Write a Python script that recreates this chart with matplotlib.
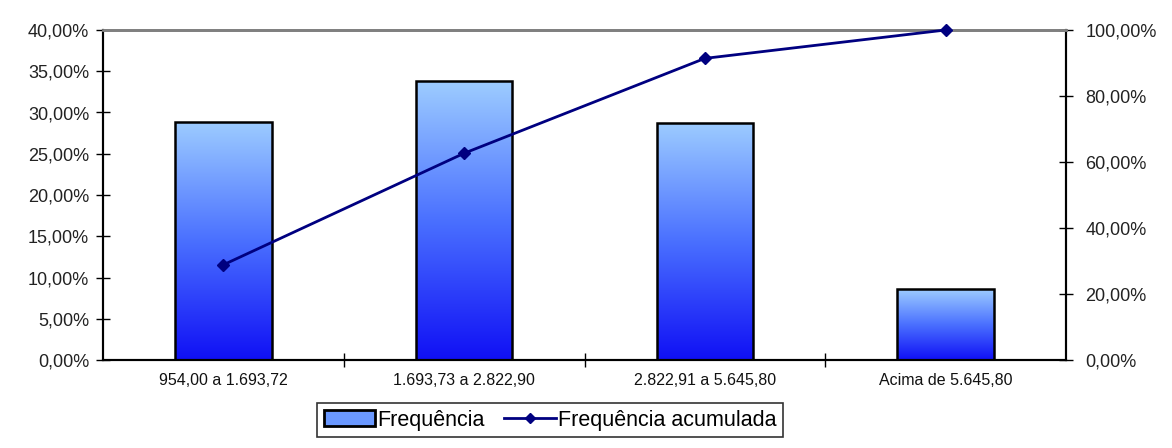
import matplotlib
matplotlib.use("Agg")
import matplotlib.pyplot as plt
import numpy as np
from matplotlib.patches import Patch
from matplotlib.lines import Line2D
from matplotlib.colors import LinearSegmentedColormap

# Data (percent)
categorias = ["954,00 a 1.693,72", "1.693,73 a 2.822,90",
              "2.822,91 a 5.645,80", "Acima de 5.645,80"]
frequencia = [28.85, 33.8, 28.75, 8.6]
freq_acumulada = [28.85, 62.65, 91.4, 100.0]
ticks_esq = [0, 5, 10, 15, 20, 25, 30, 35, 40]
ticks_dir = [0, 20, 40, 60, 80, 100]

plt.rcParams['font.family'] = ['Liberation Sans', 'DejaVu Sans']

def fmt(v):
    return f"{v:.2f}".replace(".", ",") + "%"

fig = plt.figure(figsize=(11.72, 4.48), dpi=100)
ax = fig.add_axes([103/1172, 1 - 360/448, 963/1172, 330/448])
ax2 = ax.twinx()

x = np.arange(len(categorias))
bars = ax.bar(x, frequencia, width=0.4, facecolor="none", edgecolor="black",
              linewidth=1.8, zorder=3)

# gradient fill, per bar (light top -> strong blue bottom)
cmap = LinearSegmentedColormap.from_list("grad", ["#1010f5", "#4a70ff", "#9dccff"])
grad = np.linspace(0, 1, 256).reshape(-1, 1)
for b in bars:
    x0, w, h = b.get_x(), b.get_width(), b.get_height()
    im = ax.imshow(grad, extent=[x0, x0 + w, 0, h], origin="lower",
                   cmap=cmap, aspect="auto", zorder=2)
    im.set_clip_path(b)

ax.set_xlim(-0.5, len(categorias) - 0.5)
ax.set_ylim(0, 40)
ax.set_yticks(ticks_esq)
ax.set_yticklabels([fmt(v) for v in ticks_esq])
ax.set_xticks(x)
ax.set_xticklabels(categorias)
ax.tick_params(axis="x", length=0, pad=9, labelsize=11.5, colors="#111111")
ax.set_xticks(np.arange(0.5, len(categorias) - 0.5, 1.0), minor=True)
ax.tick_params(axis="x", which="minor", direction="inout", length=10, width=1)
ax.tick_params(axis="y", direction="inout", length=10, width=1, labelsize=13,
               colors="#222222", pad=5)
ax.tick_params(axis="y", color="black")

ax2.plot(x, freq_acumulada, color="#000080", linewidth=2, marker="D",
         markersize=6, zorder=4, clip_on=False)
ax2.set_ylim(0, 100)
ax2.set_yticks(ticks_dir)
ax2.set_yticklabels([fmt(v) for v in ticks_dir])
ax2.tick_params(axis="y", direction="inout", length=10, width=1, labelsize=13,
                colors="#222222", pad=9)
ax2.tick_params(axis="y", color="black")

for a in (ax, ax2):
    a.spines["top"].set_color("#808080")
    a.spines["top"].set_linewidth(2)
    a.spines["left"].set_linewidth(1.5)
    a.spines["right"].set_linewidth(1.5)
    a.spines["bottom"].set_linewidth(1.5)

handles = [Patch(facecolor="#6a98ff", edgecolor="black", linewidth=2),
           Line2D([], [], color="#000080", linewidth=2, marker="D", markersize=5)]
leg = fig.legend(handles, ["Frequência", "Frequência acumulada"],
                 loc="center", bbox_to_anchor=(550/1172, 1 - 420/448), ncol=2,
                 frameon=True, fancybox=False, fontsize=15.5, handlelength=2.4,
                 handletextpad=0.1, columnspacing=0.9, borderpad=0.3,
                 borderaxespad=0)
leg.get_frame().set_edgecolor("black")
leg.get_frame().set_linewidth(1.2)

fig.savefig("out.png", dpi=100)
